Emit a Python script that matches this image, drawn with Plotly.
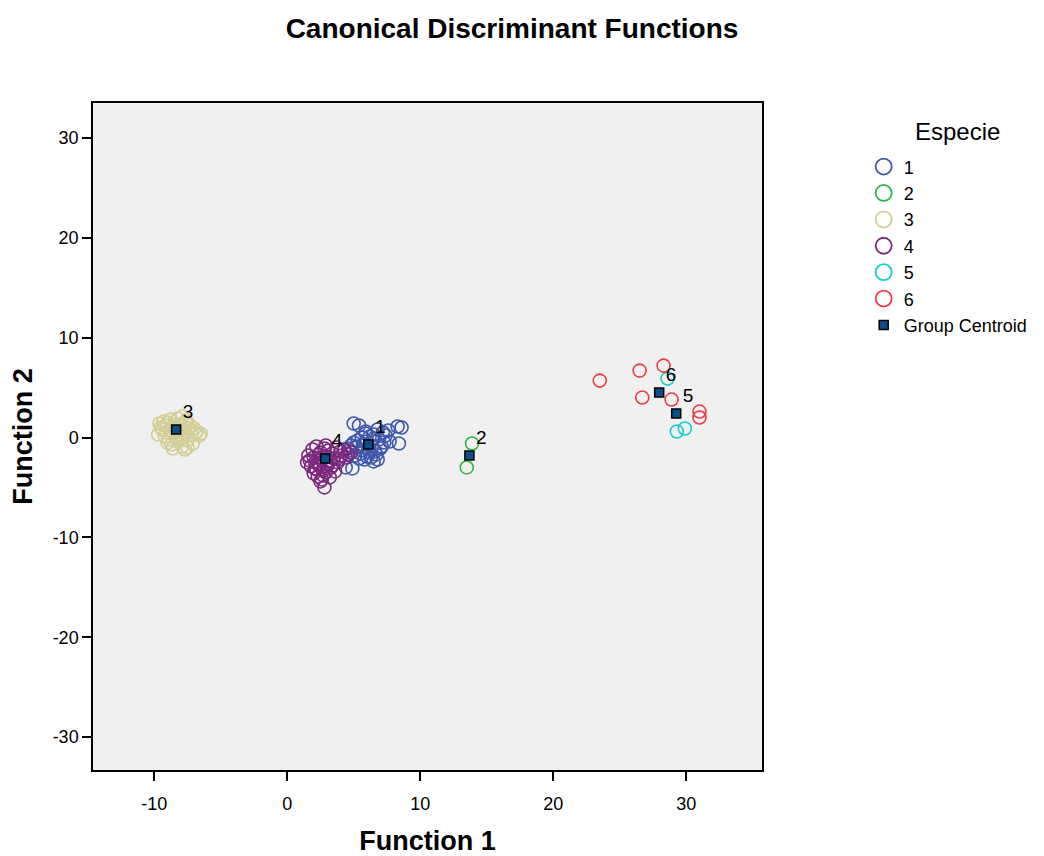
import plotly.graph_objects as go

# ---- data ----
x1 = [5.0, 5.4, 8.3, 8.6, 8.4, 7.6, 7.2, 6.8, 6.5, 6.2, 5.9, 5.6, 5.3, 5.0, 4.8, 5.2, 5.7, 6.0, 6.4, 6.9, 7.3, 7.0, 6.6,
      6.1, 5.5, 5.1, 4.7, 6.3, 6.7, 7.1, 5.8, 5.4, 6.0, 6.5, 7.4, 4.4, 4.9, 6.5, 5.9, 5.2, 6.8, 7.7, 6.2, 5.6, 4.6]
y1 = [1.4, 1.2, 1.1, 1.0, -0.6, 0.7, 0.5, 0.8, 0.3, 0.1, 0.4, 0.0, -0.3, -0.5, -0.8, -1.0, -0.7, -0.4, -0.9, -0.2, -0.5,
      -1.1, -1.4, -1.2, -1.6, -1.8, -1.3, -2.0, -1.7, -0.9, -2.2, -2.1, -1.9, -2.4, 0.2, -3.0, -3.1, -0.1, 0.6, -0.9,
      -2.2, -0.4, -1.5, -1.3, -1.1]

x2 = [13.9, 13.5]
y2 = [-0.6, -3.0]

x3 = [-9.6, -9.3, -9.0, -8.8, -8.5, -8.2, -7.9, -7.6, -7.3, -7.0, -9.4, -9.1, -8.7, -8.4, -8.0, -7.7, -7.4, -6.9, -6.6,
      -9.7, -9.2, -8.9, -8.6, -8.3, -8.1, -7.8, -7.5, -7.2, -6.8, -9.5, -9.0, -8.7, -8.2, -7.9, -7.5, -7.1, -8.6, -8.4,
      -8.0, -7.7, -7.9, -8.3, -9.1, -6.5, -7.6]
y3 = [1.4, 1.6, 1.5, 1.8, 1.3, 1.9, 2.1, 1.5, 1.2, 0.9, 0.8, 0.5, 1.0, 0.7, 1.1, 0.6, 0.9, 0.4, 0.2, 0.3, 0.1, -0.2, 0.4,
      -0.1, 0.2, 0.0, -0.3, 0.3, 0.6, 1.0, -0.5, -0.7, -0.4, -0.9, -1.0, -0.6, -1.1, 0.9, 1.3, -1.2, 0.5, 0.6, 1.2, 0.4,
      1.7]

x4 = [1.6, 1.9, 2.2, 2.5, 2.8, 3.1, 3.4, 3.7, 4.0, 4.3, 4.6, 1.7, 2.0, 2.3, 2.6, 2.9, 3.2, 3.5, 3.8, 4.1, 4.4, 1.8, 2.1,
      2.4, 2.7, 3.0, 3.3, 3.6, 2.0, 2.3, 2.6, 2.9, 3.2, 2.2, 2.5, 2.8, 3.4, 2.1, 2.9, 3.9, 4.8, 1.5, 2.4, 3.0, 2.7]
y4 = [-1.8, -1.2, -0.9, -1.5, -1.1, -1.3, -1.6, -1.0, -1.4, -1.2, -1.7, -2.3, -2.0, -2.6, -2.2, -1.9, -2.4, -2.1, -2.5,
      -1.8, -2.0, -2.9, -3.1, -2.8, -3.3, -2.7, -3.0, -3.4, -3.6, -3.9, -4.2, -3.5, -4.0, -3.2, -4.4, -5.0, -2.8, -2.5,
      -0.8, -2.2, -1.5, -2.5, -1.7, -2.9, -3.8]

x5 = [28.6, 29.3, 29.9]
y5 = [5.9, 0.6, 0.9]

x6 = [23.5, 26.5, 28.3, 26.7, 28.9, 31.0, 31.0]
y6 = [5.7, 6.7, 7.2, 4.0, 3.8, 2.6, 2.0]

groups = ["1", "2", "3", "4", "5", "6"]
centroid_x = [6.1, 13.7, -8.35, 2.86, 29.25, 27.97]
centroid_y = [-0.7, -1.8, 0.8, -2.1, 2.41, 4.51]

x_ticks = [-10, 0, 10, 20, 30]
x_tick_labels = ["-10", "0", "10", "20", "30"]
y_ticks = [-30, -20, -10, 0, 10, 20, 30]
y_tick_labels = ["-30", "-20", "-10", "0", "10", "20", "30"]

colors = ["#3E58AC", "#2EB848", "#D3CE97", "#7C287D", "#1BCFC9", "#EF3A43"]
xs = [x1, x2, x3, x4, x5, x6]
ys = [y1, y2, y3, y4, y5, y6]

FONT = "Liberation Sans, Arial, sans-serif"
W, H = 1036, 848

fig = go.Figure()
for g, xv, yv, c in zip(groups, xs, ys, colors):
    fig.add_trace(go.Scatter(
        x=xv, y=yv, mode="markers", name=g, showlegend=False, legendgroup=g,
        marker=dict(symbol="circle-open", size=13, color=c, line=dict(width=1.6, color=c)),
    ))

fig.add_trace(go.Scatter(
    x=centroid_x, y=centroid_y, mode="markers+text", name="Group Centroid", showlegend=False,
    legendgroup="centroid",
    text=groups, textposition="top right",
    textfont=dict(family=FONT, size=19, color="black"),
    marker=dict(symbol="square", size=9, color="#0B4F8A", line=dict(width=1.5, color="black")),
))

# legend entries (bigger symbols, as in the reference legend)
for g, c in zip(groups, colors):
    fig.add_trace(go.Scatter(
        x=[None], y=[None], mode="markers", name=g, legendgroup=g,
        marker=dict(symbol="circle-open", size=16, color=c, line=dict(width=1.8, color=c)),
    ))
fig.add_trace(go.Scatter(
    x=[None], y=[None], mode="markers", name="Group Centroid", legendgroup="centroid",
    marker=dict(symbol="square", size=9, color="#0B4F8A", line=dict(width=1.5, color="black")),
))

fig.update_layout(
    width=W, height=H,
    paper_bgcolor="white", plot_bgcolor="#F0F0F0",
    margin=dict(l=85, r=W - 85 - 669, t=95, b=H - 95 - 667, autoexpand=False),
    font=dict(family=FONT, size=17, color="black"),
    title=dict(text="<b>Canonical Discriminant Functions</b>", x=504 / W, xanchor="center", xref="container",
               y=1 - 20 / H, yanchor="middle", yref="container",
               font=dict(family=FONT, size=28, color="black")),
    legend=dict(x=1.152, y=0.932, xanchor="left", yanchor="top",
                font=dict(family=FONT, size=18), tracegroupgap=0, itemwidth=30,
                bgcolor="rgba(0,0,0,0)"),
    showlegend=True,
    annotations=[dict(text="Especie", xref="paper", yref="paper",
                      x=(949 - 85) / 669, y=(762 - 123) / 667, xanchor="center", yanchor="middle",
                      showarrow=False, font=dict(family=FONT, size=24, color="black"))],
)

fig.update_xaxes(range=[-14.6, 35.7], tickvals=x_ticks, ticktext=x_tick_labels, ticks="outside", ticklen=9,
                 tickwidth=1.5, tickcolor="black", showgrid=False, zeroline=False, ticklabelstandoff=8,
                 showline=True, linecolor="black", linewidth=1.5, mirror=True, automargin=False,
                 tickfont=dict(size=18), title=dict(text="<b>Function 1</b>", font=dict(size=27), standoff=18))
fig.update_yaxes(range=[-33.3, 33.5], tickvals=y_ticks, ticktext=y_tick_labels, ticks="outside", ticklen=9,
                 tickwidth=1.5, tickcolor="black", showgrid=False, zeroline=False,
                 showline=True, linecolor="black", linewidth=1.5, mirror=True, automargin=False,
                 tickfont=dict(size=18), title=dict(text="<b>Function 2</b>", font=dict(size=27), standoff=12))

fig.write_html("out.html")
